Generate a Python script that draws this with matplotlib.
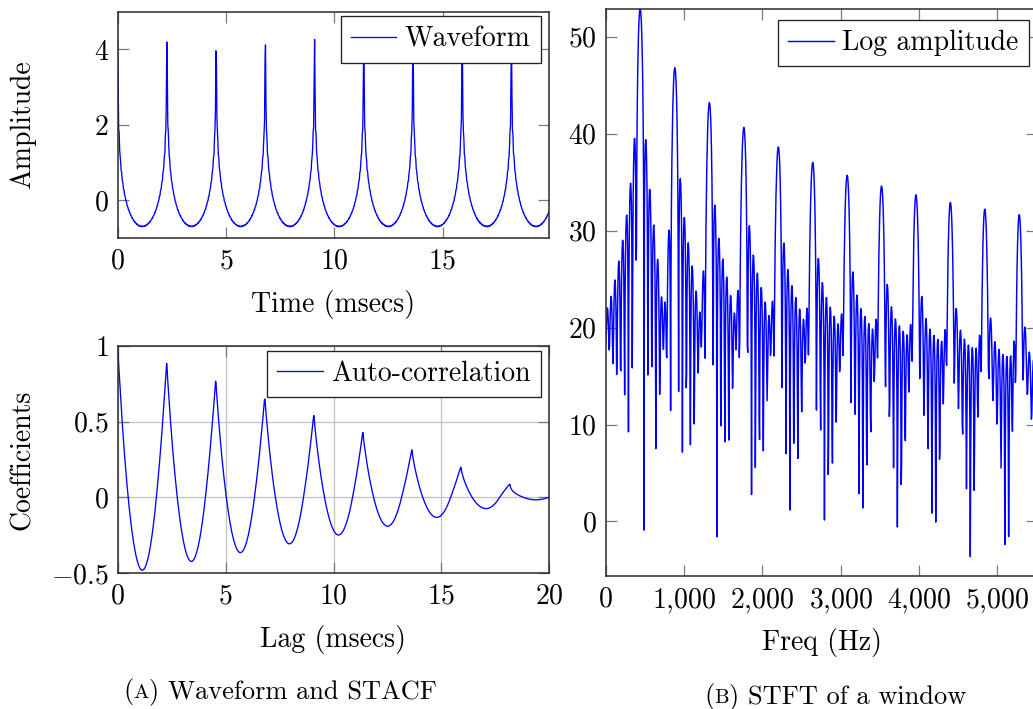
import numpy as np
import matplotlib
matplotlib.use("Agg")
import matplotlib.pyplot as plt
from matplotlib.ticker import FixedLocator, FuncFormatter

# ---------------- data (parameters) ----------------
sample_rate = 44100            # Hz
fundamental_hz = 440.0         # peaks every 2.27 ms / spectral peaks every 440 Hz
n_samples = 880                # waveform window 0 .. 19.93 ms
stft_window_samples = 898      # analysis window of the STFT (sidelobes ~49 Hz apart)
harmonic_numbers = np.arange(1, 41)            # first sample reads 4.26 ~ sum of 40 terms
harmonic_amplitudes = 1.0 / harmonic_numbers   # spectral peaks fall 6 dB / octave (52.9, 46.9, 43.4 ...)
fft_size = 8192
spectrum_max_hz = 5512.5
spectrum_ylim = (-5.6, 52.9)

wave_xticks = [0, 5, 10, 15]
wave_yticks = [0, 2, 4]
acf_xticks = [0, 5, 10, 15, 20]
acf_yticks = [-0.5, 0, 0.5, 1]
spec_xticks = [0, 1000, 2000, 3000, 4000, 5000]
spec_yticks = [0, 10, 20, 30, 40, 50]


def synth(n):
    t = np.arange(n) / sample_rate
    x = np.zeros(n)
    for k, a in zip(harmonic_numbers, harmonic_amplitudes):
        x += a * np.cos(2 * np.pi * k * fundamental_hz * t)
    return t, x


# ---------------- series ----------------
t_sec, waveform = synth(n_samples)
time_ms = t_sec * 1000.0

acf_full = np.correlate(waveform, waveform, mode="full")[n_samples - 1:]
acf = acf_full / acf_full[0]
lag_ms = np.arange(n_samples) / sample_rate * 1000.0

_, frame = synth(stft_window_samples)
spec = np.fft.rfft(frame, fft_size)
freqs = np.fft.rfftfreq(fft_size, 1.0 / sample_rate)
keep = freqs <= spectrum_max_hz
freqs = freqs[keep]
log_amp = 20 * np.log10(np.abs(spec[keep]) + 1e-12)

# ---------------- style ----------------
plt.rcParams["font.family"] = ["cmr10", "DejaVu Serif"]
plt.rcParams["mathtext.fontset"] = "cm"
plt.rcParams["axes.unicode_minus"] = False
FS = 20

W, H = 1033, 709
fig = plt.figure(figsize=(W / 100, H / 100), dpi=100)


def px_axes(left, top, right, bottom):
    return fig.add_axes([left / W, 1 - bottom / H, (right - left) / W, (bottom - top) / H])


ax1 = px_axes(117.7, 11.7, 549.3, 238.0)
ax2 = px_axes(117.7, 346.0, 549.3, 573.0)
ax3 = px_axes(605.7, 8.7, 1037.3, 575.7)

blue = "#0000ff"
spine_c = "#2a2a2a"
tick_c = "#7a7a7a"
grid_c = "#c4c4c4"


def num_fmt(v, pos=None):
    if abs(v - round(v)) < 1e-9:
        s = f"{int(round(v)):,}"
    else:
        s = f"{v:g}"
    return "$" + s.replace(",", "{,}") + "$"


def style(ax):
    for sp in ax.spines.values():
        sp.set_color(spine_c)
        sp.set_linewidth(1.1)
    ax.tick_params(which="both", direction="in", top=True, right=True,
                   length=8, width=0.9, color=tick_c, labelsize=FS, labelcolor="black")
    ax.tick_params(axis="x", pad=7.5)
    ax.tick_params(axis="y", pad=6.5)
    ax.xaxis.set_major_formatter(FuncFormatter(num_fmt))
    ax.yaxis.set_major_formatter(FuncFormatter(num_fmt))


def legend(ax, label):
    leg = ax.legend([ax.lines[0]], [label], loc="upper right", bbox_to_anchor=(0.98, 0.98),
                    borderaxespad=0, fontsize=FS, fancybox=False, framealpha=1,
                    edgecolor="#222222", handlelength=1.65, handletextpad=0.3,
                    borderpad=0.36)
    leg.get_frame().set_linewidth(0.95)


# Waveform
ax1.plot(time_ms, waveform, color=blue, lw=0.95)
ax1.set_xlim(0, time_ms[-1])
ax1.set_ylim(-1, 5)
ax1.xaxis.set_major_locator(FixedLocator(wave_xticks))
ax1.yaxis.set_major_locator(FixedLocator(wave_yticks))
style(ax1)
ax1.set_xlabel("Time (msecs)", fontsize=FS)
ax1.set_ylabel("Amplitude", fontsize=FS)
ax1.xaxis.set_label_coords(0.5, -0.228)
ax1.yaxis.set_label_coords(-0.189, 0.5)
legend(ax1, "Waveform")

# Auto-correlation
ax2.plot(lag_ms, acf, color=blue, lw=0.95)
ax2.set_xlim(0, 20)
ax2.set_ylim(-0.5, 1)
ax2.xaxis.set_major_locator(FixedLocator(acf_xticks))
ax2.yaxis.set_major_locator(FixedLocator(acf_yticks))
style(ax2)
ax2.grid(True, color=grid_c, lw=0.95)
ax2.set_axisbelow(True)
ax2.set_xlabel("Lag (msecs)", fontsize=FS)
ax2.set_ylabel("Coefficients", fontsize=FS)
ax2.xaxis.set_label_coords(0.5, -0.228)
ax2.yaxis.set_label_coords(-0.189, 0.5)
legend(ax2, "Auto-correlation")

# Spectrum
ax3.plot(freqs, log_amp, color=blue, lw=1.05)
ax3.set_xlim(0, spectrum_max_hz)
ax3.set_ylim(*spectrum_ylim)
ax3.xaxis.set_major_locator(FixedLocator(spec_xticks))
ax3.yaxis.set_major_locator(FixedLocator(spec_yticks))
style(ax3)
ax3.set_xlabel("Freq (Hz)", fontsize=FS)
ax3.xaxis.set_label_coords(0.5, -0.093)
legend(ax3, "Log amplitude")

# Captions with small-caps letter
fig.canvas.draw()
renderer = fig.canvas.get_renderer()


def caption(cx, baseline_from_top, letter, rest, size=19.0):
    parts = [("(", size), (letter, size * 0.78), (") " + rest, size)]
    widths = []
    texts = []
    for s, fs in parts:
        tt = fig.text(0, 1 - baseline_from_top / H, s, fontsize=fs, va="baseline", ha="left")
        texts.append(tt)
        widths.append(tt.get_window_extent(renderer).width)
    total = sum(widths)
    x = cx - total / 2
    for tt, w in zip(texts, widths):
        tt.set_x(x / W)
        x += w


caption(280, 698, "A", "Waveform and STACF")
caption(835, 703, "B", "STFT of a window")

fig.savefig("out.png", dpi=100)
